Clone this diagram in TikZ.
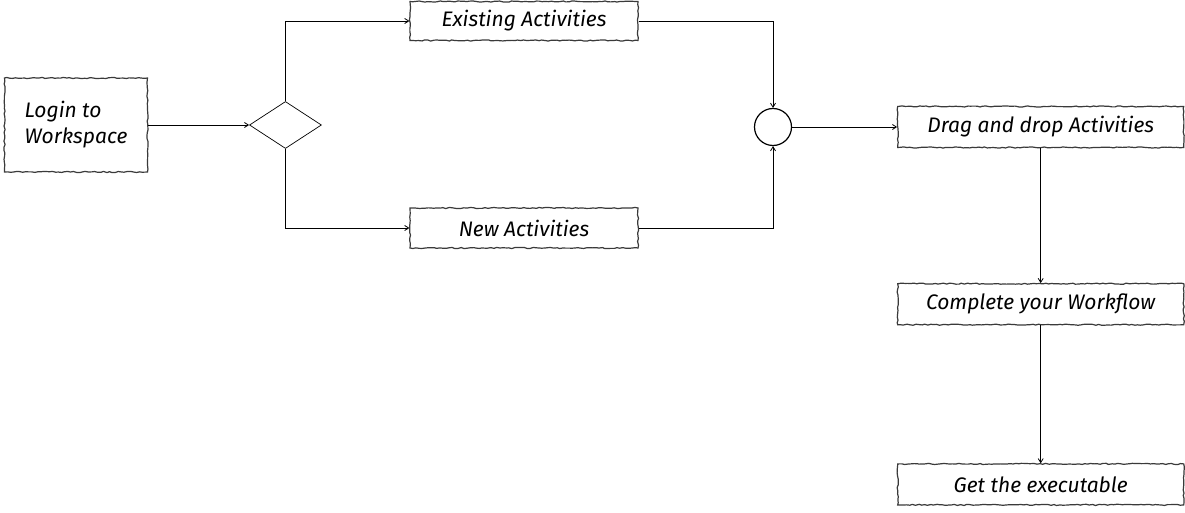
\documentclass[tikz,border=0pt]{standalone}
\usepackage{fontspec}
\setmainfont{Fira Sans}
\usepackage{tikz}
\usetikzlibrary{arrows.meta,positioning,shapes.geometric,decorations.pathmorphing}
\definecolor{inkgray}{HTML}{3A3A3A}

\begin{document}
\begin{tikzpicture}[x=1pt,y=-1pt,>={Straight Barb[length=4pt,width=5pt]},
 task/.style={draw=inkgray,line width=1.2pt,fill=white,inner sep=0pt,
   font=\fontsize{21}{26}\selectfont\itshape,
   decorate,decoration={random steps,segment length=3pt,amplitude=0.6pt}},
 wide/.style={task,minimum width=286pt,minimum height=41pt},
 flow/.style={->,line width=0.8pt}]
\pgfmathsetseed{7}
\useasboundingbox (0,0) rectangle (1185,513);
\node[task,minimum width=143pt,minimum height=94pt,align=left] (login) at (76,125) {Login to\\Workspace};
\node[draw,diamond,line width=0.7pt,inner sep=0pt,minimum width=72pt,minimum height=47pt,
  right=101pt of login] (dec) {};
\node[task,minimum width=228pt,minimum height=39pt] (exist) at (524,21) {Existing Activities};
\node[task,minimum width=228pt,minimum height=40pt] (new) at (524,228) {New Activities};
\node[draw,circle,line width=1.2pt,minimum size=37pt,inner sep=0pt] (join) at (773,127) {};
\node[wide,right=105pt of join] (drag) {Drag and drop Activities};
\node[wide,below=135pt of drag] (compl) {Complete your Workflow};
\node[wide,below=138pt of compl] (exe) {Get the executable};
\draw[flow] (login) -- (dec);
\draw[flow] (dec.north) |- (exist);
\draw[flow] (dec.south) |- (new);
\draw[flow] (exist) -| (join);
\draw[flow] (new) -| (join);
\draw[flow] (join) -- (drag);
\draw[flow] (drag) -- (compl);
\draw[flow] (compl) -- (exe);
\end{tikzpicture}
\end{document}
